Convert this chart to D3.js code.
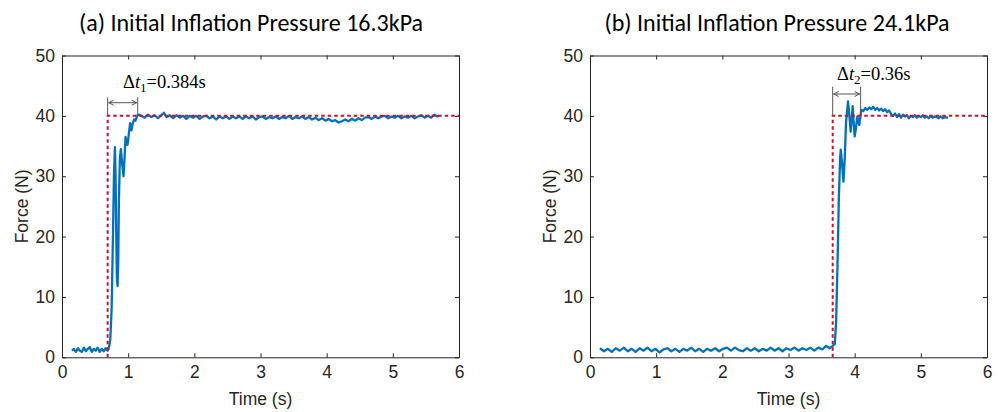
<!DOCTYPE html>
<html><head><meta charset="utf-8">
<script src="https://cdn.jsdelivr.net/npm/d3@7"></script>
<style>
html,body{margin:0;padding:0;background:#fff;}
svg{display:block;}
</style>
</head><body>
<svg id="chart" width="998" height="412"></svg>
<script>
// ---------- DATA ----------
const titles = ["(a) Initial Inflation Pressure 16.3kPa", "(b) Initial Inflation Pressure 24.1kPa"];
const xTicks = [0, 1, 2, 3, 4, 5, 6];
const yTicks = [0, 10, 20, 30, 40, 50];
const xLabel = "Time (s)";
const yLabel = "Force (N)";

// panel (a): measured force [time s, force N]
const forceA = [
 [0.15,1.1],[0.18,1.4],[0.21,0.9],[0.24,1.5],[0.27,1.1],[0.30,0.9],[0.33,1.6],[0.36,1.0],[0.39,1.4],[0.42,1.7],
 [0.45,0.9],[0.48,1.4],[0.51,1.1],[0.54,1.6],[0.57,0.9],[0.60,1.4],[0.63,1.0],[0.66,1.5],[0.69,1.1],[0.71,1.6],
 [0.73,3.0],[0.75,8.0],[0.77,20],[0.785,30],[0.80,34.8],[0.81,30],[0.82,20],[0.83,13],[0.84,11.8],[0.85,16],
 [0.86,26],[0.875,33],[0.89,34.5],[0.91,32],[0.93,30],[0.945,33],[0.96,36.5],[0.975,35.5],[0.99,35.2],[1.01,37],
 [1.03,38.8],[1.05,37.6],[1.07,38.8],[1.09,39.4],[1.11,39.2],[1.14,40.1],[1.17,40.2],
 [1.20,40.0],[1.25,39.7],[1.30,40.2],[1.35,39.8],[1.40,40.1],[1.45,39.6],[1.50,40.1],[1.54,40.5],[1.58,39.8],[1.63,40.1],
 [1.68,39.6],[1.73,40.1],[1.78,39.7],[1.83,40.0],[1.88,39.5],[1.93,40.0],[1.98,39.7],[2.03,40.0],[2.08,39.5],[2.13,39.9],
 [2.18,40.0],[2.23,39.6],[2.28,39.9],[2.33,39.4],[2.38,39.9],[2.43,39.6],[2.48,39.9],[2.53,39.5],[2.58,39.9],[2.63,39.6],
 [2.68,39.9],[2.73,39.5],[2.78,39.9],[2.83,39.6],[2.88,39.9],[2.93,39.4],[2.98,39.8],[3.03,39.9],[3.08,39.5],[3.13,39.8],
 [3.18,39.6],[3.23,39.9],[3.28,39.5],[3.33,39.8],[3.38,39.6],[3.43,40.0],[3.48,39.5],[3.53,39.8],[3.58,39.6],[3.63,39.9],
 [3.68,39.5],[3.73,39.8],[3.78,39.4],[3.83,39.7],[3.88,39.3],[3.93,39.6],[3.98,39.2],[4.03,39.5],[4.08,39.1],[4.13,39.3],
 [4.18,38.9],[4.23,39.1],[4.28,39.4],[4.33,39.1],[4.38,39.5],[4.43,39.2],[4.48,39.6],[4.53,39.3],[4.58,39.7],[4.63,39.8],
 [4.68,39.5],[4.73,39.9],[4.78,39.6],[4.83,39.9],[4.88,40.0],[4.93,39.6],[4.98,39.9],[5.03,39.7],[5.08,40.0],[5.13,39.6],
 [5.18,39.9],[5.23,39.7],[5.28,40.0],[5.33,39.6],[5.38,39.9],[5.43,40.1],[5.48,39.7],[5.53,40.0],[5.58,39.7],[5.63,40.2],
 [5.67,39.9],[5.70,40.0]
];

// panel (b): measured force [time s, force N]
const forceB = [
 [0.15,1.5],[0.21,1.0],[0.27,1.4],[0.33,0.9],[0.39,1.5],[0.45,1.1],[0.51,1.6],[0.57,1.0],[0.63,1.4],[0.69,0.9],
 [0.75,1.5],[0.81,1.1],[0.87,1.6],[0.93,1.0],[0.99,1.4],[1.05,0.8],[1.11,1.3],[1.17,1.5],[1.23,1.0],[1.29,1.4],
 [1.35,0.9],[1.41,1.4],[1.47,1.1],[1.53,1.6],[1.59,1.0],[1.65,1.4],[1.71,0.9],[1.77,1.4],[1.83,1.1],[1.89,1.5],
 [1.95,1.0],[2.01,1.4],[2.07,1.6],[2.13,1.1],[2.19,1.6],[2.25,1.2],[2.31,1.0],[2.37,1.5],[2.43,1.1],[2.49,1.5],
 [2.55,1.0],[2.61,1.4],[2.67,1.1],[2.73,1.6],[2.79,1.1],[2.85,1.5],[2.91,1.0],[2.97,1.5],[3.03,1.2],[3.09,1.6],
 [3.15,1.1],[3.21,1.5],[3.27,1.2],[3.33,1.6],[3.39,1.1],[3.45,1.6],[3.51,1.3],[3.57,1.9],[3.62,1.5],[3.66,1.8],
 [3.70,2.2],[3.72,6],[3.74,15],[3.76,26],[3.78,33],[3.79,34.4],[3.81,32],[3.83,29.1],[3.85,33],[3.87,39],
 [3.90,42.4],[3.92,40],[3.94,37.4],[3.955,39.5],[3.97,41.6],[3.985,39],[4.00,36.6],[4.02,38],[4.04,39.9],[4.07,38.5],
 [4.10,41.0],[4.13,40.8],[4.16,41.3],[4.19,41.0],[4.22,41.4],[4.25,41.1],[4.28,41.5],[4.31,41.0],[4.34,41.3],[4.37,40.9],
 [4.40,41.2],[4.43,40.8],[4.46,41.1],[4.49,40.6],[4.52,40.9],[4.55,40.3],[4.58,40.0],[4.61,40.4],[4.64,39.8],[4.67,40.3],
 [4.70,39.7],[4.73,40.2],[4.76,39.9],[4.79,40.1],[4.82,39.6],[4.85,40.0],[4.88,39.8],[4.91,40.1],[4.94,39.7],[4.97,40.0],
 [5.00,39.8],[5.03,40.1],[5.06,39.7],[5.09,39.9],[5.12,39.6],[5.15,40.0],[5.18,39.7],[5.21,39.9],[5.24,39.8],[5.27,39.6],
 [5.30,39.9],[5.33,39.6],[5.36,39.8],[5.39,39.7],[5.41,39.7]
];

// reference step: [step time s, target force N, end time s]
const refA = [0.69, 40, 6];
const refB = [3.668, 40, 6];

// response-time annotations: [t start, t end]
const spanA = [0.69, 1.144];
const spanB = [3.668, 4.09];
const annotA = {sub: "1", value: "=0.384s"};
const annotB = {sub: "2", value: "=0.36s"};

// ---------- DRAW ----------
const svg = d3.select("#chart");
const axisColor = "#262626";
const panels = [
  {left: 62, title: titles[0], titleX: 251, data: forceA, ref: refA, span: spanA, annot: annotA,
   arrowY: 102.7, vTop: 97.3, rBottom: 116, textX: 123, textY: 87.5},
  {left: 590, title: titles[1], titleX: 777, data: forceB, ref: refB, span: spanB, annot: annotB,
   arrowY: 94, vTop: 86.7, rBottom: 115, textX: 837, textY: 80}
];
const plotTop = 55.5, plotBottom = 357.3, plotWidth = 397;

panels.forEach(p => {
  const g = svg.append("g");
  const x = d3.scaleLinear().domain([0, 6]).range([p.left, p.left + plotWidth]);
  const y = d3.scaleLinear().domain([0, 50]).range([plotBottom, plotTop]);

  // title
  g.append("text").attr("x", p.titleX).attr("y", 31)
    .attr("text-anchor", "middle")
    .style("font-family", "Carlito, Lato, 'Open Sans', sans-serif")
    .style("font-size", "24px").style("fill", "#000")
    .text(p.title);

  // axes (MATLAB style, inward ticks, box)
  const tickLen = 4;
  const xAxisB = d3.axisBottom(x).tickValues(xTicks).tickSizeInner(-tickLen).tickSizeOuter(0).tickPadding(8).tickFormat(d3.format("d"));
  const xAxisT = d3.axisTop(x).tickValues(xTicks).tickSizeInner(-tickLen).tickSizeOuter(0).tickFormat("");
  const yAxisL = d3.axisLeft(y).tickValues(yTicks).tickSizeInner(-tickLen).tickSizeOuter(0).tickPadding(7).tickFormat(d3.format("d"));
  const yAxisR = d3.axisRight(y).tickValues(yTicks).tickSizeInner(-tickLen).tickSizeOuter(0).tickFormat("");

  const styleAxis = sel => {
    sel.selectAll("path").attr("stroke", axisColor).attr("stroke-width", 1);
    sel.selectAll("line").attr("stroke", axisColor).attr("stroke-width", 1);
    sel.selectAll("text").attr("fill", axisColor)
      .style("font-family", "'Liberation Sans', Arial, sans-serif").style("font-size", "17.5px");
  };
  g.append("g").attr("transform", `translate(0,${plotBottom})`).call(xAxisB).call(styleAxis);
  g.append("g").attr("transform", `translate(0,${plotTop})`).call(xAxisT).call(styleAxis);
  g.append("g").attr("transform", `translate(${p.left},0)`).call(yAxisL).call(styleAxis);
  g.append("g").attr("transform", `translate(${p.left + plotWidth},0)`).call(yAxisR).call(styleAxis);

  // axis labels
  g.append("text").attr("x", p.left + plotWidth / 2).attr("y", 405)
    .attr("text-anchor", "middle").attr("fill", axisColor)
    .style("font-family", "'Liberation Sans', Arial, sans-serif").style("font-size", "17.5px")
    .text(xLabel);
  g.append("text")
    .attr("transform", `translate(${p.left - 34},${(plotTop + plotBottom) / 2}) rotate(-90)`)
    .attr("text-anchor", "middle").attr("fill", axisColor)
    .style("font-family", "'Liberation Sans', Arial, sans-serif").style("font-size", "17.5px")
    .text(yLabel);

  // measured force
  const line = d3.line().x(d => x(d[0])).y(d => y(d[1]));
  g.append("path").datum(p.data).attr("d", line)
    .attr("fill", "none").attr("stroke", "#0072BD").attr("stroke-width", 2.3)
    .attr("stroke-linejoin", "round");

  // reference step (dotted red)
  const [t0, fTarget, tEnd] = p.ref;
  g.append("path").datum([[t0, 0], [t0, fTarget], [tEnd, fTarget]]).attr("d", line)
    .attr("fill", "none").attr("stroke", "#C8102E").attr("stroke-width", 2)
    .attr("stroke-dasharray", "3.5,3");

  // annotation: vertical guides + double arrow
  const ann = g.append("g").attr("stroke", "#555").attr("stroke-width", 1);
  const xs = x(p.span[0]), xe = x(p.span[1]);
  ann.append("line").attr("x1", xs).attr("x2", xs).attr("y1", p.vTop).attr("y2", y(fTarget));
  ann.append("line").attr("x1", xe).attr("x2", xe).attr("y1", p.vTop).attr("y2", p.rBottom);
  ann.append("line").attr("x1", xs + 1).attr("x2", xe - 1).attr("y1", p.arrowY).attr("y2", p.arrowY);
  const ah = 5, aw = 2.5;
  ann.append("path").attr("fill", "none")
    .attr("d", `M${xs + ah + 1},${p.arrowY - aw} L${xs + 1},${p.arrowY} L${xs + ah + 1},${p.arrowY + aw}`);
  ann.append("path").attr("fill", "none")
    .attr("d", `M${xe - ah - 1},${p.arrowY - aw} L${xe - 1},${p.arrowY} L${xe - ah - 1},${p.arrowY + aw}`);

  const t = g.append("text").attr("x", p.textX).attr("y", p.textY)
    .style("font-family", "'Liberation Serif', 'Times New Roman', serif").style("font-size", "18.5px")
    .attr("fill", "#000");
  t.append("tspan").text("Δ");
  t.append("tspan").style("font-style", "italic").text("t");
  t.append("tspan").attr("dy", 4).style("font-size", "13px").text(p.annot.sub);
  t.append("tspan").attr("dy", -4).text(p.annot.value);
});
</script>
</body></html>
